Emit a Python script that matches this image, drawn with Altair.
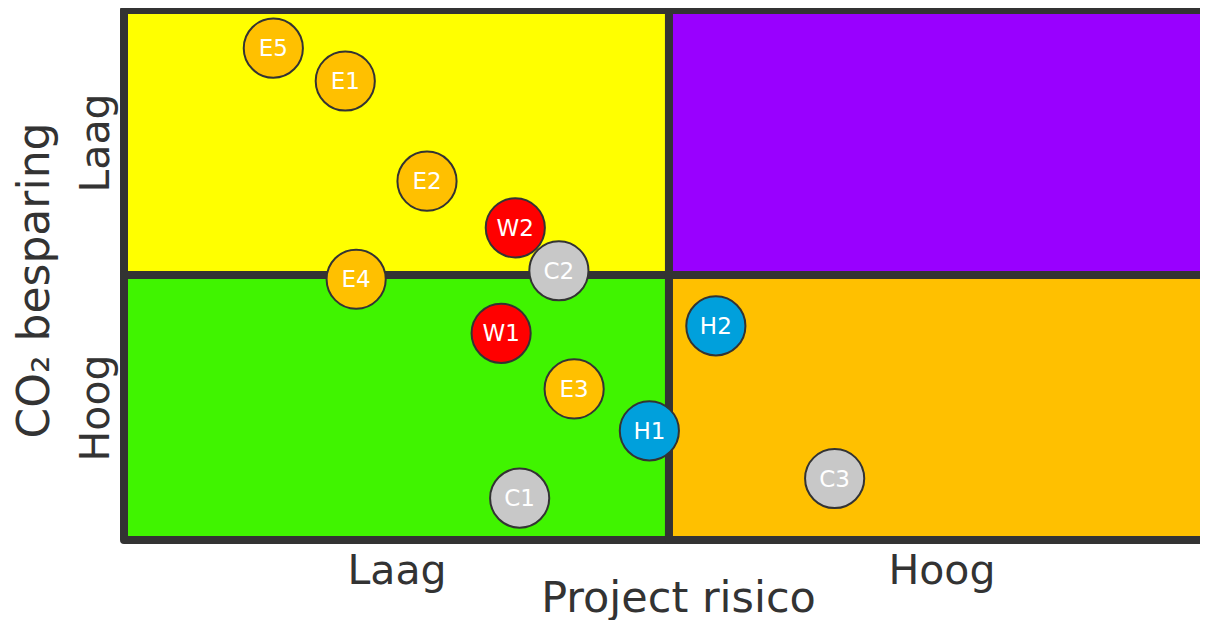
import altair as alt
import pandas as pd

# Project points
names = ["E5", "E1", "E2", "E4", "W2", "W1", "E3", "H1", "C1", "H2", "C2", "C3"]
risk = [1.37, 2.03, 2.78, 2.13, 3.59, 3.46, 4.13, 4.82, 3.63, 5.43, 3.99, 6.52]
co2 = [9.28, 8.66, 6.77, 4.92, 5.89, 3.90, 2.85, 2.06, 0.79, 4.04, 5.08, 1.16]
groups = [n[0] for n in names]

group_domain = ["E", "W", "H", "C"]
group_colors = ["#FFC000", "#FF0000", "#00A0DC", "#C8C8C8"]

# Quadrants
quad_x = [0, 5, 0, 5]
quad_x2 = [5, 10, 5, 10]
quad_y = [5, 5, 0, 0]
quad_y2 = [10, 10, 5, 5]
quad_color = ["#FFFF00", "#9900FF", "#40F400", "#FFC000"]

tick_vals = [2.5, 7.5]

FONT = "DejaVu Sans"
TXT = "#333333"

pts = pd.DataFrame({"name": names, "risk": risk, "co2": co2, "group": groups})
quads = pd.DataFrame({"x": quad_x, "x2": quad_x2, "y": quad_y, "y2": quad_y2, "c": quad_color})

xscale = alt.Scale(domain=[0, 9.872], nice=False, zero=False)
yscale = alt.Scale(domain=[0, 10], nice=False, zero=False)

xaxis = alt.Axis(
    values=tick_vals,
    labelExpr="datum.value < 5 ? 'Laag' : 'Hoog'",
    title="Project risico",
    titleFont=FONT, titleFontSize=43, titleFontWeight="normal", titleColor=TXT,
    titleX=554, titleY=71, titleAlign="center", titleBaseline="alphabetic", titleAnchor="start",
    labelFont=FONT, labelFontSize=41, labelColor=TXT,
    labelPadding=43, labelBaseline="alphabetic", labelAlign="center",
    ticks=False, tickSize=0, domain=False, grid=False,
)
yaxis = alt.Axis(
    values=tick_vals,
    labelExpr="datum.value > 5 ? 'Laag' : 'Hoog'",
    title="CO₂ besparing",
    titleFont=FONT, titleFontSize=44, titleFontWeight="normal", titleColor=TXT,
    titleX=-76, titleY=270, titleAngle=270, titleAlign="center", titleBaseline="alphabetic",
    titleAnchor="start",
    labelFont=FONT, labelFontSize=41, labelColor=TXT, labelAngle=270,
    labelPadding=16, labelBaseline="alphabetic", labelAlign="center",
    ticks=False, tickSize=0, domain=False, grid=False,
)

rects = alt.Chart(quads).mark_rect(
    stroke="#333333", strokeWidth=8, strokeJoin="round"
).encode(
    x=alt.X("x:Q", scale=xscale, axis=xaxis),
    x2="x2:Q",
    y=alt.Y("y:Q", scale=yscale, axis=yaxis),
    y2="y2:Q",
    color=alt.Color("c:N", scale=None, legend=None),
)

circles = alt.Chart(pts).mark_circle(
    size=3500, opacity=1, stroke="#333333", strokeWidth=2
).encode(
    x=alt.X("risk:Q", scale=xscale, axis=xaxis),
    y=alt.Y("co2:Q", scale=yscale, axis=yaxis),
    color=alt.Color("group:N", scale=alt.Scale(domain=group_domain, range=group_colors), legend=None),
)

labels = alt.Chart(pts).mark_text(
    font=FONT, fontSize=23, color="white", baseline="middle", align="center", dy=1
).encode(
    x=alt.X("risk:Q", scale=xscale, axis=xaxis),
    y=alt.Y("co2:Q", scale=yscale, axis=yaxis),
    text="name:N",
)

chart = alt.layer(rects, circles, labels).properties(
    width=1076, height=530,
    autosize=alt.AutoSizeParams(type="none"),
    padding={"left": 116, "top": 2, "right": 0, "bottom": 80},
).configure_view(stroke=None).configure(background="white")

chart.save("out.html", embed_options={"renderer": "svg", "actions": False})
